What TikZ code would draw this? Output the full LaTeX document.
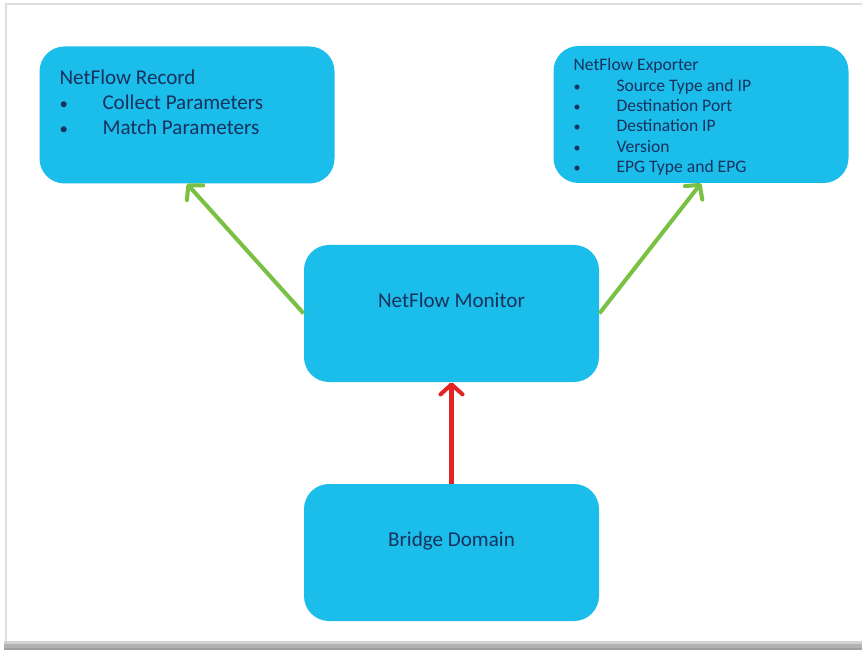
\documentclass[tikz,border=0pt]{standalone}
\usepackage{fontspec}
\setmainfont{Carlito}
\usepackage{xcolor}
\usepackage{tikz}
\usetikzlibrary{arrows.meta, positioning, calc}

\definecolor{boxblue}{RGB}{27,189,235}
\definecolor{textnavy}{RGB}{24,50,94}
\definecolor{arrowgreen}{RGB}{122,193,67}
\definecolor{arrowred}{RGB}{226,36,36}

\newcommand{\bulletitem}{\makebox[0.86cm][l]{\scalebox{0.8}{\textbullet}}}

\begin{document}
\begin{tikzpicture}[
    box/.style={rectangle, fill=boxblue, rounded corners=0.5cm, minimum width=5.9cm, minimum height=2.74cm, inner sep=0pt, text=textnavy, font=\fontsize{12}{14.2}\selectfont},
    boxtext/.style={inner sep=0pt, align=left, text=textnavy, anchor=north west},
    arrow/.style={-{Straight Barb[length=2mm, width=4.4mm, round]}, line width=2.3pt},
]
\useasboundingbox (0,0) rectangle (17.24,-13);
\fill[white] (0,0) rectangle (17.24,-13);
\draw[gray!25, line width=1.2pt] (0.12,-12.9) -- (0.12,-0.08) -- (17.24,-0.08);
\fill[gray!35] (0.08,-12.82) rectangle (17.24,-12.88);
\fill[gray!60] (0.08,-12.88) rectangle (17.24,-12.95);
\fill[gray!75] (0.08,-12.95) rectangle (17.24,-13);

\node[box] (record) at (3.74,-2.30) {};
\node[box] (exporter) at (14.02,-2.29) {};
\node[box, text depth=0.52cm] (monitor) at (9.03,-6.27) {NetFlow Monitor};
\node[box, text depth=0.52cm] (bridge) at (9.03,-11.05) {Bridge Domain};

\node[boxtext, font=\fontsize{12}{14.2}\selectfont] (recordtext) at ($(record.north west)+(0.4,-0.46)$) {NetFlow Record\\
\bulletitem Collect Parameters\\
\bulletitem Match Parameters};
\node[boxtext, font=\fontsize{10}{11.6}\selectfont] (exportertext) at ($(exporter.north west)+(0.4,-0.25)$) {NetFlow Exporter\\
\bulletitem Source Type and IP\\
\bulletitem Destination Port\\
\bulletitem Destination IP\\
\bulletitem Version\\
\bulletitem EPG Type and EPG};

\draw[arrow, arrowgreen] (monitor.west) -- (record.south);
\draw[arrow, arrowgreen] (monitor.east) -- (exporter.south);
\draw[arrow, arrowred] (bridge.north) -- (monitor.south);
\end{tikzpicture}
\end{document}
